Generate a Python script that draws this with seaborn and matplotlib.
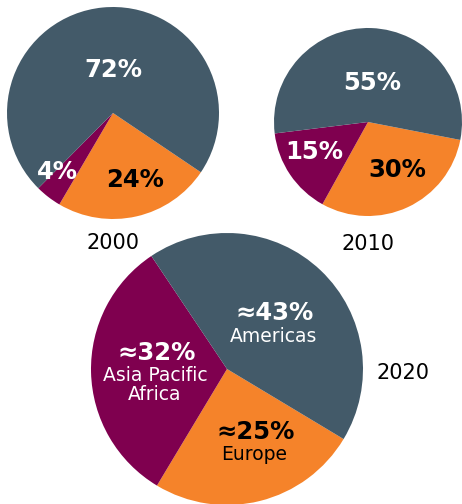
import numpy as np
import matplotlib
matplotlib.use("Agg")
import matplotlib.pyplot as plt
import seaborn as sns

# Data: share of sales by region
regions = ["Europe", "Asia Pacific Africa", "Americas"]
share_2000 = [24, 4, 72]
share_2010 = [30, 15, 55]
share_2020 = [25, 32, 43]
labels_2000 = ["24%", "4%", "72%"]
labels_2010 = ["30%", "15%", "55%"]
labels_2020 = ["≈25%", "≈32%", "≈43%"]
region_names_2020 = ["Europe", "Asia Pacific\nAfrica", "Americas"]

sns.set_theme(style="white")
plt.rcParams['font.family'] = ['DejaVu Sans']

palette = sns.color_palette(["#f5832a", "#7f004f", "#435a69"])
W, H = 462, 504
fig = plt.figure(figsize=(W / 100, H / 100), dpi=100)
wedge_style = dict(linewidth=0, edgecolor='none')


def pie_axes(cx, cy, r):
    # axes box in pixel units -> figure fraction
    ax = fig.add_axes([(cx - r) / W, (H - cy - r) / H, 2 * r / W, 2 * r / H])
    ax.set_aspect('equal')
    ax.axis('off')
    return ax


txt_col = ["black", "white", "white"]

# 2000
ax1 = pie_axes(113, 113, 106)
ax1.pie(share_2000, colors=palette, startangle=-34, counterclock=False, radius=1,
        wedgeprops=wedge_style)
ax1.set_xlim(-1, 1); ax1.set_ylim(-1, 1)
pos_2000 = [(0.21, -0.63), (-0.52, -0.56), (0.0, 0.41)]
for (x, y), lab, c in zip(pos_2000, labels_2000, txt_col):
    ax1.text(x, y, lab, ha='center', va='center', color=c, fontsize=17.5, fontweight='bold')

# 2010
ax2 = pie_axes(368, 122, 94)
ax2.pie(share_2010, colors=palette, startangle=-11, counterclock=False, radius=1,
        wedgeprops=wedge_style)
ax2.set_xlim(-1, 1); ax2.set_ylim(-1, 1)
pos_2010 = [(0.31, -0.51), (-0.57, -0.32), (0.04, 0.41)]
for (x, y), lab, c in zip(pos_2010, labels_2010, txt_col):
    ax2.text(x, y, lab, ha='center', va='center', color=c, fontsize=17.5, fontweight='bold')

# 2020
ax3 = pie_axes(227, 369, 136)
ax3.pie(share_2020, colors=palette, startangle=-31, counterclock=False, radius=1,
        wedgeprops=wedge_style)
ax3.set_xlim(-1, 1); ax3.set_ylim(-1, 1)
pos_2020 = [(0.21, -0.46), (-0.52, 0.12), (0.35, 0.41)]
for (x, y), lab, name, c in zip(pos_2020, labels_2020, region_names_2020, txt_col):
    ax3.text(x, y, lab, ha='center', va='center', color=c, fontsize=17.5, fontweight='bold')
    ax3.text(x - 0.01, y - 0.1, name, ha='center', va='top', color=c, fontsize=13.5,
             linespacing=1.0)

# year captions
years = ["2000", "2010", "2020"]
year_pos = [(113, 243), (368, 244), (403, 373)]
for yr, (px, py) in zip(years, year_pos):
    fig.text(px / W, 1 - py / H, yr, ha='center', va='center', fontsize=15, color='black')

fig.savefig("out.png", dpi=100)
